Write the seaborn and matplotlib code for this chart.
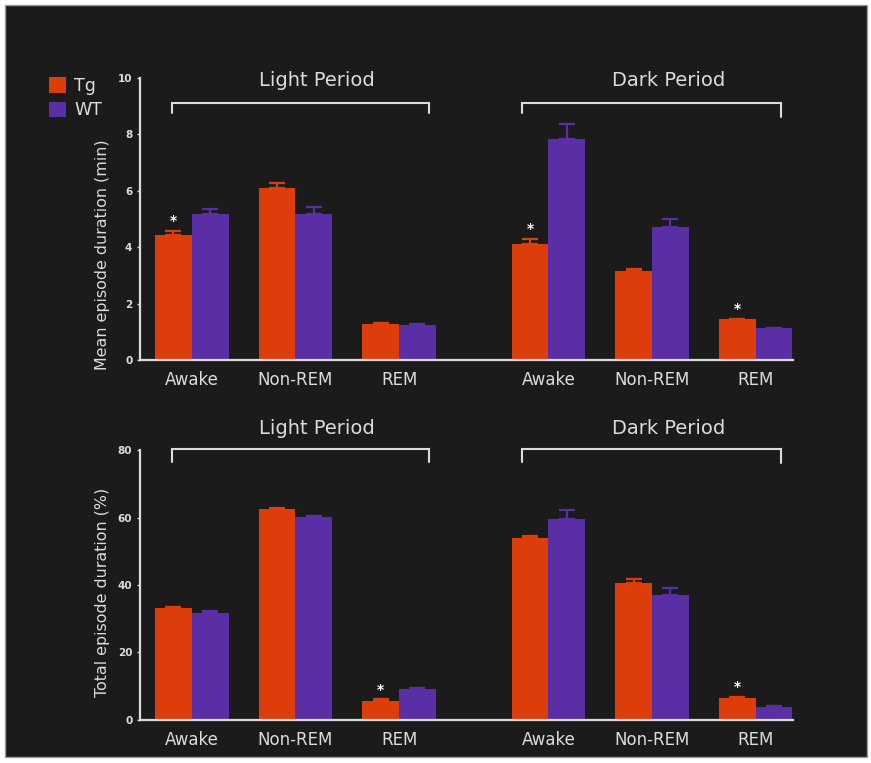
import numpy as np
import pandas as pd
import matplotlib
matplotlib.use("Agg")
import matplotlib.pyplot as plt
import matplotlib.transforms as mtransforms
from matplotlib.patches import Patch, Rectangle
import seaborn as sns

# ---- data ----
STATES = ["Awake", "Non-REM", "REM", "Awake", "Non-REM", "REM"]
PERIODS = ["Light Period", "Dark Period"]

# mean episode duration (min)
MEAN_TG = [4.43, 6.09, 1.29, 4.10, 3.16, 1.44]
MEAN_TG_ERR = [0.14, 0.20, 0.03, 0.19, 0.07, 0.02]
MEAN_WT = [5.18, 5.18, 1.25, 7.84, 4.71, 1.12]
MEAN_WT_ERR = [0.19, 0.24, 0.03, 0.53, 0.29, 0.03]
MEAN_SIG = [True, False, False, True, False, True]

# total episode duration (%)
TOTAL_TG = [33.1, 62.4, 5.7, 53.8, 40.5, 6.6]
TOTAL_TG_ERR = [0.4, 0.4, 0.4, 0.8, 1.2, 0.2]
TOTAL_WT = [31.6, 60.1, 9.3, 59.6, 37.0, 3.9]
TOTAL_WT_ERR = [0.8, 0.3, 0.2, 2.7, 2.0, 0.3]
TOTAL_SIG = [False, False, True, False, False, True]

TG_COLOR = "#DC3D0A"
WT_COLOR = "#5A2FA5"
BG = "#1b1b1b"
FG = "#dcdcdc"

# x layout: three states per period, extra gap between periods
GAP = 0.44
POS = np.array([i + (GAP if i >= 3 else 0) for i in range(len(STATES))])


def make_frame(tg, wt):
    rows = []
    for i, st in enumerate(STATES):
        rows.append({"pos": POS[i], "state": st, "genotype": "Tg", "value": tg[i]})
        rows.append({"pos": POS[i], "state": st, "genotype": "WT", "value": wt[i]})
    return pd.DataFrame(rows)


def draw_panel(ax, tg, tg_err, wt, wt_err, sig, ylim, yticks, ylabel, label_y, brk):
    df = make_frame(tg, wt)
    sns.barplot(data=df, x="pos", y="value", hue="genotype", hue_order=["Tg", "WT"],
                palette=[TG_COLOR, WT_COLOR], native_scale=True, width=0.71,
                errorbar=None, saturation=1, linewidth=0, legend=False, ax=ax)

    errs = {"Tg": tg_err, "WT": wt_err}
    for cont, geno, col in zip(ax.containers, ["Tg", "WT"], [TG_COLOR, WT_COLOR]):
        for bar in cont:
            xc = bar.get_x() + bar.get_width() / 2
            i = int(np.argmin(np.abs(POS - xc)))
            h = bar.get_height()
            e = errs[geno][i]
            ax.errorbar(xc, h, yerr=[[0], [e]], fmt="none", ecolor=col,
                        elinewidth=1.6, capsize=6, capthick=1.6, zorder=3)
            if geno == "Tg" and sig[i]:
                ax.annotate("*", xy=(xc, h + e), xytext=(0, 7), textcoords="offset points",
                            ha="center", va="center", color="white", fontsize=10,
                            fontweight="bold")

    ax.set_xlim(-0.5, POS[-1] + 0.36)
    ax.set_ylim(*ylim)
    ax.set_yticks(yticks)
    ax.set_yticklabels([str(t) for t in yticks], fontsize=7.5, fontweight="bold", color=FG)
    ax.set_xticks(POS)
    ax.set_xticklabels(STATES, fontsize=12, color=FG)
    ax.tick_params(axis="x", length=0, pad=8)
    ax.tick_params(axis="y", length=2.5, width=1, color=FG, pad=3, direction="out")
    ax.set_xlabel("")
    ax.set_ylabel(ylabel, fontsize=11.4, color=FG, va="center")
    ax.yaxis.set_label_coords(-0.058, label_y)
    ax.set_facecolor(BG)
    sns.despine(ax=ax)
    for s in ["left", "bottom"]:
        ax.spines[s].set_color(FG)
        ax.spines[s].set_linewidth(1.6)

    # period brackets and titles
    trans = mtransforms.blended_transform_factory(ax.transData, ax.transAxes)
    (y_bar, y_drop_l, y_drop_r, y_title) = brk
    for (x0, x1), xt, title, dr in zip([(-0.19, 2.29), (3.19, 5.68)], [1.21, 4.6], PERIODS,
                                       [y_drop_l, y_drop_r]):
        ax.plot([x0, x0, x1, x1], [y_drop_l, y_bar, y_bar, dr], color=FG, lw=1.5,
                transform=trans, clip_on=False, solid_joinstyle="miter")
        ax.text(xt, y_title, title, transform=trans, ha="center", va="center",
                fontsize=14, color=FG)


sns.set_style("ticks")
plt.rcParams["font.family"] = ["DejaVu Sans"]

fig = plt.figure(figsize=(8.71, 7.63), dpi=100, facecolor="white")
fig.patches.append(Rectangle((0.0057, 0.0079), 0.9897, 0.9855, transform=fig.transFigure,
                             facecolor=BG, edgecolor="#9a9a9a", lw=1, zorder=-10))

ax_top = fig.add_axes([0.1607, 0.5282, 0.7497, 0.3696])
ax_bot = fig.add_axes([0.1607, 0.0564, 0.7497, 0.3538])

draw_panel(ax_top, MEAN_TG, MEAN_TG_ERR, MEAN_WT, MEAN_WT_ERR, MEAN_SIG,
           (0, 10), [0, 2, 4, 6, 8, 10], "Mean episode duration (min)", 0.375,
           (0.911, 0.876, 0.862, 0.991))
draw_panel(ax_bot, TOTAL_TG, TOTAL_TG_ERR, TOTAL_WT, TOTAL_WT_ERR, TOTAL_SIG,
           (0, 80), [0, 20, 40, 60, 80], "Total episode duration (%)", 0.474,
           (1.003, 0.957, 0.953, 1.081))

handles = [Patch(facecolor=TG_COLOR, edgecolor="none", label="Tg"),
           Patch(facecolor=WT_COLOR, edgecolor="none", label="WT")]
leg = fig.legend(handles=handles, loc="upper left", bbox_to_anchor=(0.056, 0.899),
                 frameon=False, fontsize=12.5, handlelength=1.0, handleheight=1.0,
                 handletextpad=0.45, labelspacing=0.36, borderpad=0, borderaxespad=0)
for t in leg.get_texts():
    t.set_color(FG)

fig.savefig("out.png", dpi=100, facecolor=fig.get_facecolor())
